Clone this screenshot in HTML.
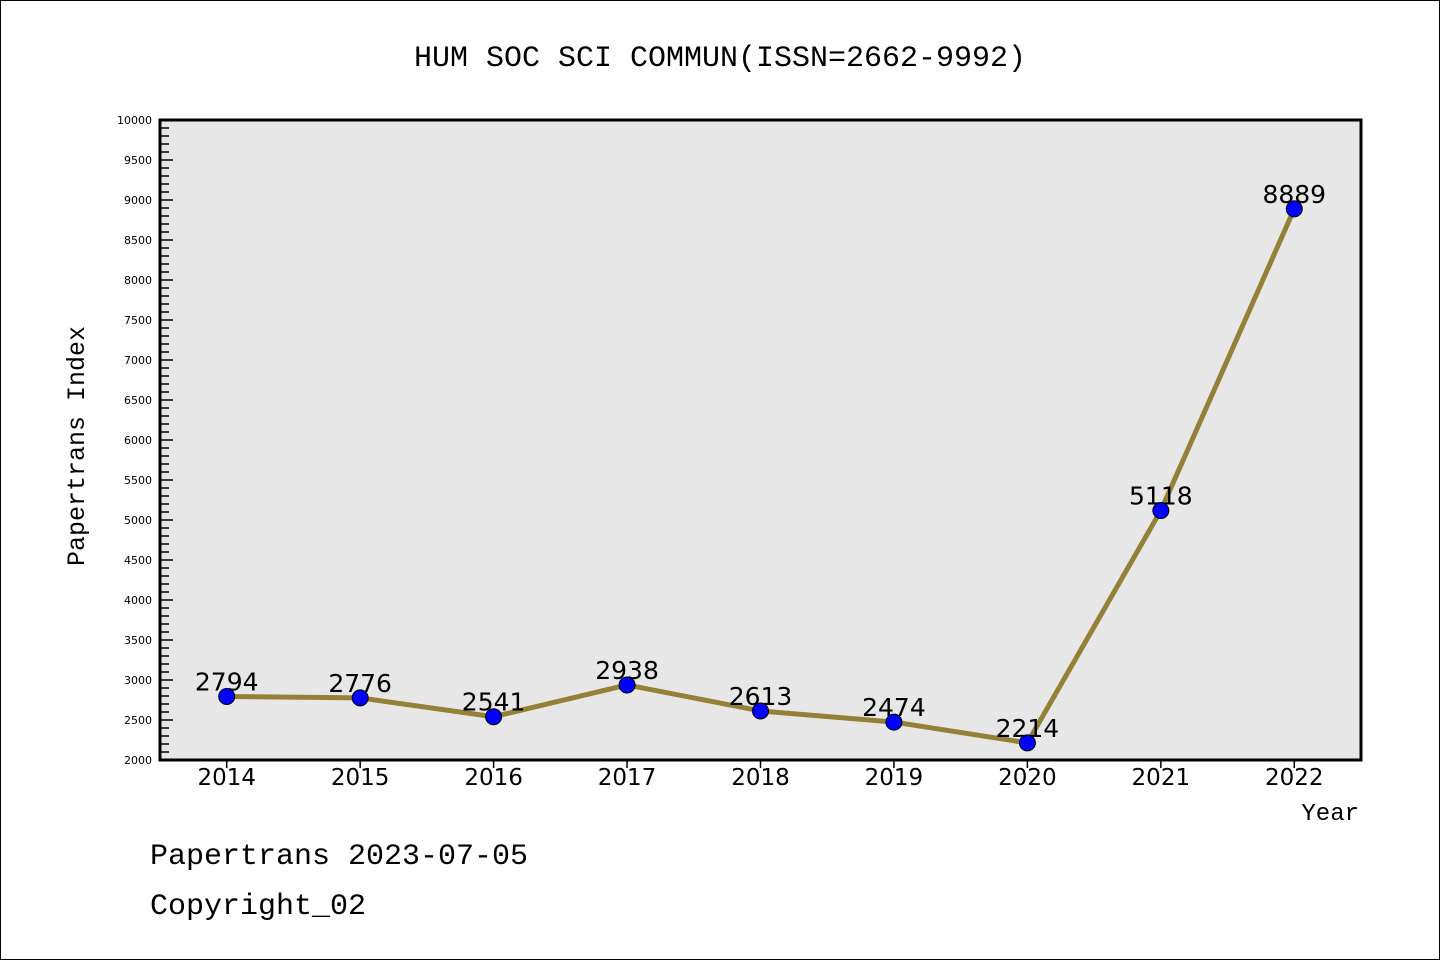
<!DOCTYPE html>
<html><head><meta charset="utf-8"><style>
body{margin:0;background:#fff}
svg text{font-family:"DejaVu Sans","Liberation Sans",sans-serif;fill:#000}
svg text.mono{font-family:"Liberation Mono","DejaVu Sans Mono",monospace}
</style></head><body>
<svg width="1440" height="960" xmlns="http://www.w3.org/2000/svg">
<rect x="0.5" y="0.5" width="1439" height="959" fill="#fff" stroke="#000"/>
<text class="mono" x="720" y="66" font-size="30" text-anchor="middle">HUM SOC SCI COMMUN(ISSN=2662-9992)</text>
<rect x="160" y="120" width="1201" height="640" fill="#e7e7e7"/>
<g id="yt"></g>
<g id="xt"></g>
<path d="M160,760 V120 H1361 V760 Z" fill="none" stroke="#000" stroke-width="3"/>
<g id="series"></g>
<text class="mono" transform="translate(84,446) rotate(-90)" font-size="25" text-anchor="middle">Papertrans Index</text>
<text class="mono" x="1359" y="820" font-size="24" text-anchor="end">Year</text>
<text class="mono" x="150" y="864" font-size="30">Papertrans 2023-07-05</text>
<text class="mono" x="150" y="914" font-size="30">Copyright_02</text>
</svg>
<script>
const categories=["2014","2015","2016","2017","2018","2019","2020","2021","2022"];
const values=[2794,2776,2541,2938,2613,2474,2214,5118,8889];
const yTicks=[2000,2500,3000,3500,4000,4500,5000,5500,6000,6500,7000,7500,8000,8500,9000,9500,10000];
const NS="http://www.w3.org/2000/svg";
const L=160,R=1361,T=120,B=760,ymin=2000,ymax=10000;
const sx=i=>L+(i+0.5)*(R-L)/categories.length;
const sy=v=>B-(v-ymin)/(ymax-ymin)*(B-T);
function mk(tag,attrs,parent){const e=document.createElementNS(NS,tag);for(const k in attrs)e.setAttribute(k,attrs[k]);parent.appendChild(e);return e;}
const yt=document.getElementById('yt'),xt=document.getElementById('xt'),sg=document.getElementById('series');
for(let v=ymin;v<=ymax;v+=100){
  const major=v%500===0;
  const t=mk('line',{x1:L,x2:L+(major?13:9),y1:sy(v),y2:sy(v),stroke:'#000','stroke-width':1.5},yt);
  
  
}
yTicks.forEach(v=>{
  const t=mk('text',{x:152,y:sy(v)+4,'font-size':11,'text-anchor':'end'},yt);
  t.textContent=v;
  
  
});
categories.forEach((c,i)=>{
  const l=mk('line',{x1:sx(i),x2:sx(i),y1:B,y2:B+8,stroke:'#000','stroke-width':1.5},xt);
  
  
  const t=mk('text',{x:sx(i),y:785,'font-size':23,'text-anchor':'middle'},xt);
  t.textContent=c;
  
  
});
const pl=mk('polyline',{points:values.map((v,i)=>sx(i)+','+sy(v)).join(' '),fill:'none',stroke:'#948137','stroke-width':5,'stroke-linejoin':'round'},sg);


values.forEach((v,i)=>{
  const c=mk('circle',{cx:sx(i),cy:sy(v),r:8,fill:'#0000ff',stroke:'#000','stroke-width':1},sg);
  
  
  const t=mk('text',{x:sx(i),y:sy(v)-6,'font-size':25,'text-anchor':'middle'},sg);
  t.textContent=v;
  
  
});
</script>
</body></html>
